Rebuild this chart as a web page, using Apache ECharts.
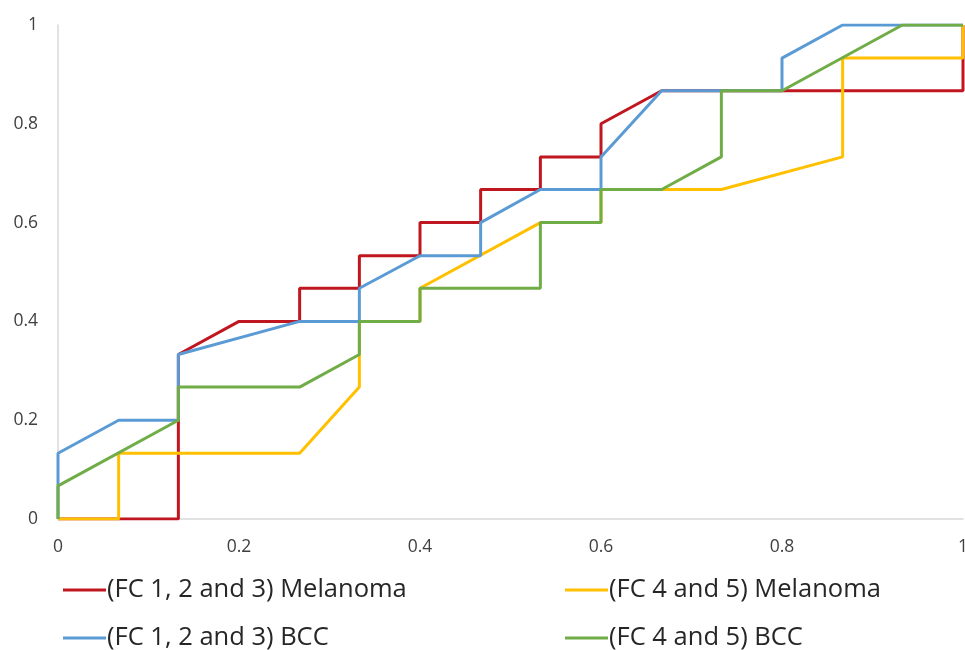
<!DOCTYPE html>
<html>
<head>
    <meta charset="UTF-8"/>
    <script type="text/javascript" src="https://cdn.jsdelivr.net/npm/echarts@6/dist/echarts.min.js"></script>
    <title>ROC</title>
    <style>
        html, body {margin: 0; padding: 0; background: #fff;}
    </style>
</head>
<body>
<div id="main" style="width:965px;height:650px"></div>
<script type="text/javascript">
    // steps are multiples of 1/15
    var names = ['(FC 1, 2 and 3) Melanoma', '(FC 4 and 5) Melanoma', '(FC 1, 2 and 3) BCC', '(FC 4 and 5) BCC']
    var colors = ['#C0161F', '#FFC000', '#5B9BD5', '#70AD47']

    var melX1 = [0, 0.067, 0.133, 0.133, 0.133, 0.2, 0.267, 0.267, 0.333, 0.333, 0.4, 0.4, 0.467, 0.467, 0.533, 0.533, 0.6, 0.6, 0.667, 1, 1]
    var melY1 = [0, 0, 0, 0.2, 0.333, 0.4, 0.4, 0.467, 0.467, 0.533, 0.533, 0.6, 0.6, 0.667, 0.667, 0.733, 0.733, 0.8, 0.867, 0.867, 1]

    var melX2 = [0, 0.067, 0.067, 0.267, 0.333, 0.333, 0.4, 0.4, 0.533, 0.6, 0.6, 0.733, 0.867, 0.867, 1, 1]
    var melY2 = [0, 0, 0.133, 0.133, 0.267, 0.4, 0.4, 0.467, 0.6, 0.6, 0.667, 0.667, 0.733, 0.933, 0.933, 1]

    var bccX1 = [0, 0, 0.067, 0.133, 0.133, 0.267, 0.333, 0.333, 0.4, 0.467, 0.467, 0.533, 0.6, 0.6, 0.667, 0.8, 0.8, 0.867, 1]
    var bccY1 = [0, 0.133, 0.2, 0.2, 0.333, 0.4, 0.4, 0.467, 0.533, 0.533, 0.6, 0.667, 0.667, 0.733, 0.867, 0.867, 0.933, 1, 1]

    var bccX2 = [0, 0, 0.133, 0.133, 0.267, 0.333, 0.333, 0.4, 0.4, 0.533, 0.533, 0.6, 0.6, 0.667, 0.733, 0.733, 0.8, 0.933, 1]
    var bccY2 = [0, 0.067, 0.2, 0.267, 0.267, 0.333, 0.4, 0.4, 0.467, 0.467, 0.6, 0.6, 0.667, 0.667, 0.733, 0.867, 0.867, 1, 1]

    var xTickLabels = ['0', '0.2', '0.4', '0.6', '0.8', '1']
    var yTickLabels = ['0', '0.2', '0.4', '0.6', '0.8', '1']

    var xs = [melX1, melX2, bccX1, bccX2]
    var ys = [melY1, melY2, bccY1, bccY2]

    function pairs(x, y) {
        var out = []
        for (var i = 0; i < x.length; i++) {
            out.push([x[i], y[i]])
        }
        return out
    }

    function tickLabel(list) {
        return function (v) {
            return list[Math.round(v / 0.2)]
        }
    }

    var font = '"Open Sans", sans-serif'
    var legendPos = [[63, 577], [565, 577], [63, 625], [565, 625]]

    var series = []
    var legends = []
    for (var i = 0; i < names.length; i++) {
        series.push({
            name: names[i],
            type: 'line',
            data: pairs(xs[i], ys[i]),
            showSymbol: false,
            symbol: 'none',
            lineStyle: {color: colors[i], width: 3},
            itemStyle: {color: colors[i]},
            animation: false
        })
        legends.push({
            data: [{name: names[i], icon: 'rect'}],
            left: legendPos[i][0],
            top: legendPos[i][1],
            itemWidth: 43,
            itemHeight: 3,
            itemGap: 0,
            padding: 0,
            textStyle: {fontFamily: font, fontSize: 25.5, color: '#262626', padding: [0, 0, 0, -4]}
        })
    }

    var option = {
        backgroundColor: '#fff',
        grid: {left: 58, right: 2, top: 25, bottom: 131, containLabel: false, outerBoundsMode: 'none'},
        legend: legends,
        xAxis: {
            type: 'value',
            min: 0,
            max: 1,
            interval: 0.2,
            axisLine: {show: true, lineStyle: {color: '#D9D9D9', width: 1.5}},
            axisTick: {show: false},
            splitLine: {show: false},
            axisLabel: {
                formatter: tickLabel(xTickLabels),
                color: '#404040',
                fontFamily: font,
                fontSize: 17.5,
                margin: 19
            }
        },
        yAxis: {
            type: 'value',
            min: 0,
            max: 1,
            interval: 0.2,
            axisLine: {show: true, lineStyle: {color: '#D9D9D9', width: 1.5}},
            axisTick: {show: false},
            splitLine: {show: false},
            axisLabel: {
                formatter: tickLabel(yTickLabels),
                color: '#404040',
                fontFamily: font,
                fontSize: 17.5,
                margin: 20
            }
        },
        series: series
    }

    var myChart = echarts.init(document.getElementById('main'))
    myChart.setOption(option)
</script>
</body>
</html>
